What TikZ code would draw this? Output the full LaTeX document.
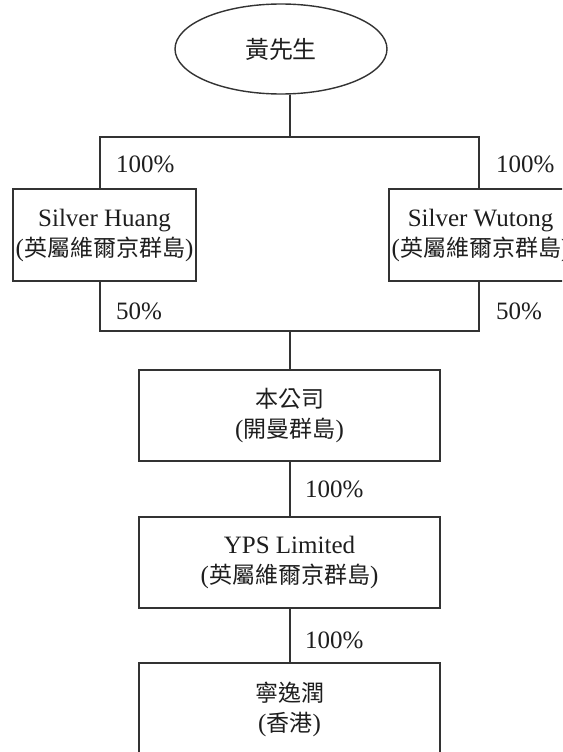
\documentclass[tikz,border=0pt]{standalone}
\usepackage{fontspec}
\setmainfont{Liberation Serif}
\newfontfamily\cjk[Scale=0.92]{Noto Sans CJK TC}
\usetikzlibrary{shapes.geometric}
\definecolor{lncol}{HTML}{333333}
\definecolor{txcol}{HTML}{1E1E1E}
\tikzset{
  orgbox/.style={draw=lncol, line width=1.4pt, rectangle, inner sep=0pt, align=center, text=txcol,
    font=\fontsize{25}{30}\selectfont},
  pct/.style={anchor=west, inner sep=0pt, text=txcol, font=\fontsize{25}{28}\selectfont},
  link/.style={draw=lncol, line width=1.4pt},
}
\begin{document}
\begin{tikzpicture}[x=1pt,y=-1pt]
\clip (0,0) rectangle (562,752);
\fill[white] (0,0) rectangle (562,752);

\node[ellipse, draw=lncol, line width=1.4pt, minimum width=212pt, minimum height=90pt, inner sep=0pt,
  text=txcol, font=\fontsize{26}{28}\selectfont] (mr) at (281,49) {\cjk 黃先生};

\node[orgbox, minimum width=183pt, minimum height=92pt] (sh) at (104.5,235)
  {Silver Huang\\({\cjk 英屬維爾京群島})};
\node[orgbox, minimum width=183pt, minimum height=92pt] (sw) at (480.5,235)
  {Silver Wutong\\({\cjk 英屬維爾京群島})};

\node[orgbox, minimum width=301pt, minimum height=91pt] (co) at (289.5,415.5)
  {{\cjk 本公司}\\({\cjk 開曼群島})};
\node[orgbox, minimum width=301pt, minimum height=91pt] (yps) at (289.5,562.5)
  {YPS Limited\\({\cjk 英屬維爾京群島})};
\node[orgbox, minimum width=301pt, minimum height=92pt] (nyr) at (289.5,709)
  {{\cjk 寧逸潤}\\({\cjk 香港})};

\coordinate (c1) at (290,137);
\coordinate (la) at (100,137);
\coordinate (ra) at (479,137);
\coordinate (lb) at (100,331);
\coordinate (rb) at (479,331);
\coordinate (c2) at (290,331);

\draw[link] (mr.south -| c1) -- (c1);
\draw[link] (la |- sh.north) -- (la) -- (ra) -- (ra |- sw.north);
\draw[link] (lb |- sh.south) -- (lb) -- (rb) -- (rb |- sw.south);
\draw[link] (c2) -- (c2 |- co.north);
\draw[link] (co.south -| c1) -- (yps.north -| c1);
\draw[link] (yps.south -| c1) -- (nyr.north -| c1);

\node[pct] (p1) at (116,164) {100\%};
\node[pct] (p2) at (496,164) {100\%};
\node[pct] (p3) at (116,311) {50\%};
\node[pct] (p4) at (496,311) {50\%};
\node[pct] (p5) at (305,489) {100\%};
\node[pct] (p6) at (305,640) {100\%};
\end{tikzpicture}
\end{document}
